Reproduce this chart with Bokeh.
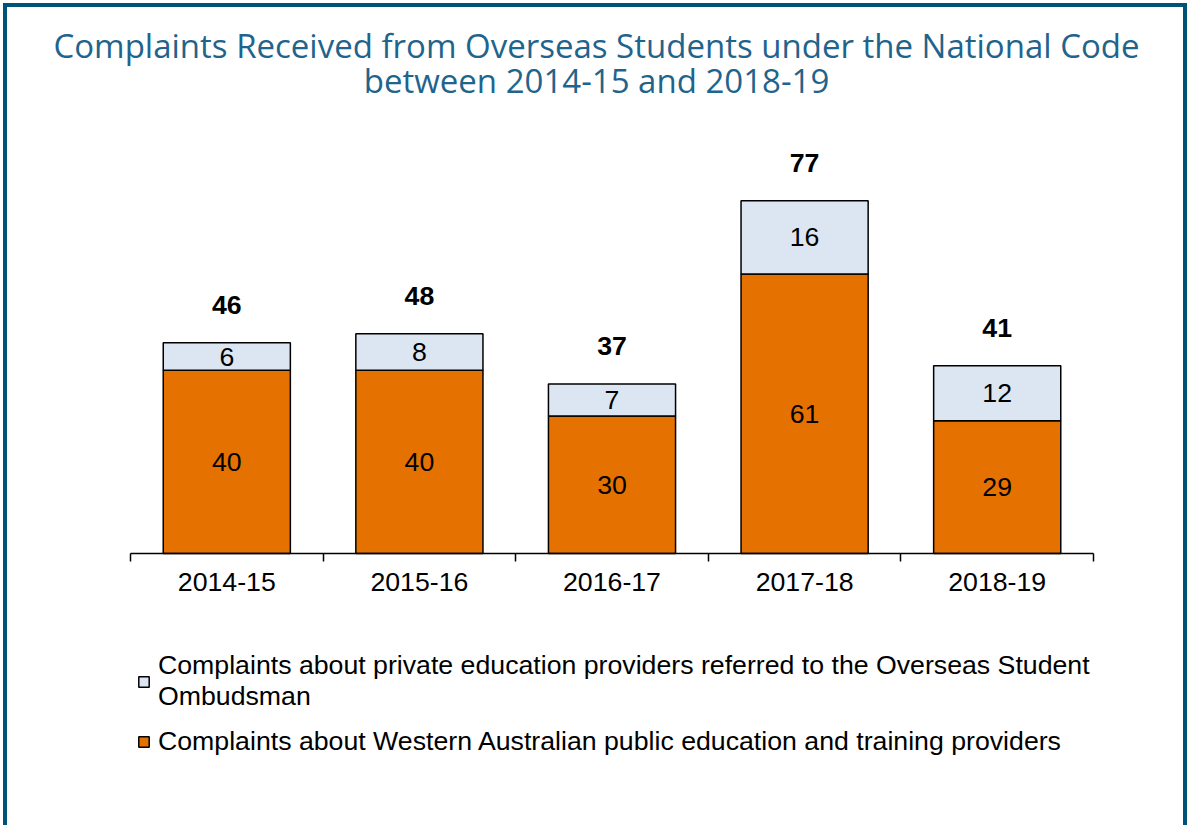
import pandas as pd
from bokeh.plotting import figure
from bokeh.models import (ColumnDataSource, Range1d, FixedTicker, LabelSet, Legend,
                          LegendItem, Label)
from bokeh.core.properties import value
from bokeh.embed import file_html
from bokeh.resources import INLINE

# ---- data ----
years = ["2014-15", "2015-16", "2016-17", "2017-18", "2018-19"]
public_wa = [40, 40, 30, 61, 29]      # Western Australian public providers
private_oso = [6, 8, 7, 16, 12]       # private providers referred to OSO
series_names = [
    "Complaints about private education providers referred to the Overseas Student\nOmbudsman",
    "Complaints about Western Australian public education and training providers",
]
title_lines = ["Complaints Received from Overseas Students under the National Code",
               "between 2014-15 and 2018-19"]

ORANGE = "#E57200"
LIGHT = "#DCE6F2"
BORDER = "#005378"
TITLE_C = "#1F648C"
FONT = "Liberation Sans"
FS = "26.7px"

df = pd.DataFrame({"year": years, "public": public_wa, "private": private_oso})
df["x"] = range(len(years))
df["total"] = df["public"] + df["private"]
df["mid_public"] = df["public"] / 2
df["mid_private"] = df["public"] + df["private"] / 2
df["public_txt"] = df["public"].astype(str)
df["private_txt"] = df["private"].astype(str)
df["total_txt"] = df["total"].astype(str)
src = ColumnDataSource(df)

# ---- layout (pixels) ----
FW, FH = 1176, 818          # frame covers the whole canvas
PX_X = 192.6                # pixels per category
PX_Y = 4.58                 # pixels per complaint
AX_LEFT, AX_BASE = 123, 546  # axis start and baseline inside the canvas
n = len(years)
x0 = -0.5 - AX_LEFT / PX_X
x1 = x0 + FW / PX_X
y1 = AX_BASE / PX_Y
y0 = y1 - FH / PX_Y

p = figure(frame_width=FW, frame_height=FH, output_backend="svg",
           toolbar_location=None, title=None, min_border=0,
           x_range=Range1d(x0, x1), y_range=Range1d(y0, y1))
p.styles = {"border-top": f"4px solid {BORDER}", "border-left": f"4px solid {BORDER}",
            "border-right": f"4px solid {BORDER}", "margin-left": "3px",
            "margin-top": "3px"}
p.outline_line_color = None
p.xgrid.visible = False
p.ygrid.visible = False
p.yaxis.visible = False

for i, line in enumerate(title_lines):
    p.add_layout(Label(x=589, y=FH - 38 - 35 * i, x_units="screen", y_units="screen",
                       text=line, text_align="center", text_baseline="middle",
                       text_font="Open Sans", text_font_size="33px",
                       text_color=TITLE_C))

rs = p.vbar_stack(["public", "private"], x="x", width=0.66, source=src,
                  fill_color=[ORANGE, LIGHT], line_color="black", line_width=1.5)

ax = p.xaxis[0]
ax.fixed_location = 0
ax.bounds = (-0.5, n - 0.5)
ax.ticker = FixedTicker(ticks=list(df["x"]),
                        minor_ticks=[i - 0.5 for i in range(n + 1)])
ax.major_label_overrides = {int(i): y for i, y in zip(df["x"], years)}
ax.major_tick_line_color = None
ax.major_tick_out = 0
ax.major_tick_in = 0
ax.minor_tick_line_color = "black"
ax.minor_tick_line_width = 1.5
ax.minor_tick_out = 8
ax.minor_tick_in = 0
ax.axis_line_color = "black"
ax.axis_line_width = 1.5
ax.major_label_text_font = FONT
ax.major_label_text_font_size = FS
ax.major_label_text_color = "black"
ax.major_label_standoff = 11

for col, txt in (("mid_public", "public_txt"), ("mid_private", "private_txt")):
    p.add_layout(LabelSet(x="x", y=col, text=txt, source=src, text_align="center",
                          text_baseline="middle", text_font=value(FONT),
                          text_font_size=FS, text_color="black"))
p.add_layout(LabelSet(x="x", y="total", text="total_txt", source=src,
                      text_align="center", text_baseline="middle", y_offset=38,
                      text_font=value(FONT), text_font_size=FS,
                      text_font_style="bold", text_color="black"))

legend = Legend(items=[LegendItem(label=series_names[0], renderers=[rs[1]]),
                       LegendItem(label=series_names[1], renderers=[rs[0]])],
                location=(AX_LEFT + 7, 68), padding=0, margin=0, spacing=14,
                glyph_width=13, glyph_height=13, label_standoff=8,
                label_text_font=FONT, label_text_font_size=FS,
                label_text_line_height=1.0,
                label_text_color="black", background_fill_alpha=0,
                border_line_color=None)
p.add_layout(legend, "center")

open("out.html", "w").write(file_html(p, INLINE))
